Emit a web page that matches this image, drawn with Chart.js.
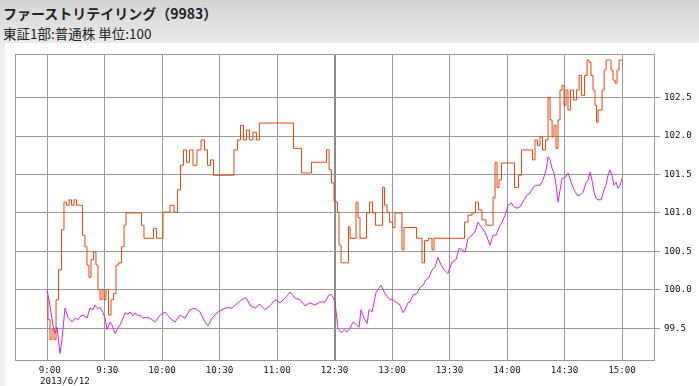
<!DOCTYPE html>
<html><head><meta charset="utf-8">
<script src="https://cdn.jsdelivr.net/npm/chart.js@4/dist/chart.umd.min.js"></script>
<style>
html,body{margin:0;padding:0;width:699px;height:386px;overflow:hidden;background:#eeeeee;}
#hdr{position:absolute;left:0;top:0;width:699px;height:46px;background:linear-gradient(#d4d4d4,#ebebeb);}
#panel{position:absolute;left:5px;top:43px;width:694px;height:343px;background:#fff;}
#t1{position:absolute;left:3px;top:4px;font:bold 14px "Noto Sans CJK JP";line-height:18px;color:#222;white-space:nowrap;}
#t2{position:absolute;left:3px;top:25px;font:13.5px "Noto Sans CJK JP";line-height:16px;color:#222;white-space:nowrap;}
#date{position:absolute;left:40px;top:375px;font:9.2px "DejaVu Sans Mono";line-height:11px;color:#111;white-space:nowrap;}
canvas{position:absolute;left:0;top:0;}
</style></head>
<body>
<div id="hdr"></div><div id="panel"></div>
<div id="t1">ファーストリテイリング（9983）</div>
<div id="t2">東証1部:普通株 単位:100</div>
<canvas id="c" width="699" height="386"></canvas>
<div id="date">2013/6/12</div>
<script>
// trading minutes from 9:00 (lunch break removed: 150 = 11:30 / 12:30)
const xTickVals = [0,30,60,90,120,150,180,210,240,270,300];
const xTickLabels = [' 9:00',' 9:30','10:00','10:30','11:00','12:30','13:00','13:30','14:00','14:30','15:00'];
const yTickVals = [99.5,100.0,100.5,101.0,101.5,102.0,102.5];

// stock (orange)
const stockT = [0,1.0,2.1,3.1,4.2,5.2,6.8,8.3,9.4,11.0,12.0,13.6,14.6,16.2,17.7,19.3,20.3,21.4,22.4,23.5,25.0,26.1,27.1,28.2,29.2,30.3,31.3,32.9,33.9,35.5,36.5,38.1,39.7,40.7,41.7,48.5,50.1,51.1,54.8,56.3,57.9,60.0,61.0,63.1,65.2,67.3,68.9,70.4,72.0,73.6,75.1,77.2,79.3,81.4,82.9,84.5,86.1,87.6,92.9,96.5,98.6,100.2,101.7,103.3,104.8,106.4,108.5,110.0,111.6,127.8,129.4,132.0,133.6,137.2,138.8,145.0,146.6,147.7,149.2,150.3,151.3,151.8,152.9,154.0,157.0,157.6,158.6,160.7,161.7,162.8,163.8,165.9,167.5,169.1,170.6,172.2,174.8,175.3,176.9,177.9,179.5,181.0,182.1,184.7,185.7,186.8,192.0,193.6,195.1,196.2,197.7,200.3,201.4,202.4,217.0,218.6,220.7,222.8,224.3,225.9,228.0,230.1,232.2,233.2,234.3,235.3,236.3,237.9,240.0,242.6,245.2,246.8,248.3,250.4,252.5,254.1,255.1,256.7,257.7,259.3,260.9,261.9,263.0,264.0,265.0,266.1,267.1,268.2,269.2,270.3,271.3,272.3,273.9,275.5,277.1,278.1,279.7,281.2,282.3,283.3,284.3,285.4,286.4,287.0,288.0,289.1,290.1,291.2,292.2,293.7,294.8,295.8,296.9,297.9,299.0,300.0];
const stockV = [99.90,99.61,99.35,99.48,99.35,99.87,100.26,100.78,101.14,101.10,101.17,101.10,101.17,101.10,101.10,100.71,100.56,100.32,100.16,100.39,100.49,100.32,100.00,99.87,100.00,99.87,100.00,99.67,99.87,99.95,100.32,100.35,100.56,100.84,101.00,101.00,100.84,100.67,100.67,100.80,100.67,100.67,101.01,101.01,101.10,101.01,101.30,101.62,101.82,101.66,101.82,101.62,101.82,101.95,101.82,101.62,101.69,101.49,101.49,101.49,101.82,101.95,102.14,101.95,102.08,101.95,102.05,101.95,102.17,102.17,101.84,101.84,101.52,101.52,101.66,101.66,101.82,101.56,101.39,101.15,101.14,101.01,100.58,100.35,100.35,100.82,100.67,100.67,101.14,100.94,100.67,100.67,101.00,101.14,101.00,100.84,100.84,101.33,101.10,101.01,100.88,100.81,101.00,101.00,100.52,100.81,100.81,100.67,100.67,100.35,100.64,100.67,100.52,100.67,100.67,100.88,100.97,101.00,101.14,101.04,100.91,100.84,100.84,101.20,101.66,101.33,101.43,101.65,101.65,101.65,101.33,101.49,101.82,101.82,101.82,101.69,101.95,101.88,101.99,101.82,101.95,102.50,102.21,101.99,102.14,101.84,102.21,102.60,102.66,102.40,102.60,102.34,102.60,102.47,102.60,102.79,102.53,102.79,102.99,102.96,102.79,102.60,102.40,102.18,102.34,102.34,102.60,102.86,102.99,102.99,102.86,102.73,102.69,102.86,102.99,102.99];

// index (magenta)
const indexT = [0,1.0,2.1,3.1,4.2,5.2,6.3,6.8,7.8,8.3,9.4,11.0,13.0,14.6,16.2,17.7,18.8,20.9,22.4,24.0,25.0,26.6,27.7,29.2,30.3,31.3,32.9,33.9,35.5,37.0,38.1,39.7,40.7,42.3,43.3,44.9,45.9,47.5,48.5,50.1,51.1,53.7,56.3,59.0,61.6,64.2,66.8,69.4,72.0,74.6,77.2,79.8,82.4,84.0,86.1,89.2,91.3,94.4,96.5,99.7,101.7,103.8,105.9,108.5,111.1,113.7,116.3,119.0,121.6,124.2,126.8,129.4,132.0,134.6,137.2,139.8,142.4,145.0,147.1,148.2,149.2,150.3,151.8,153.4,155.0,156.5,158.1,159.7,161.2,162.8,163.8,165.4,167.0,168.0,169.6,171.7,172.7,174.3,175.3,176.9,179.0,180.5,182.6,184.2,185.7,186.8,188.3,189.4,190.9,193.0,194.6,196.2,197.7,199.3,200.9,202.4,204.0,205.6,207.1,209.2,211.3,213.4,215.0,216.5,218.1,219.7,221.7,223.3,224.9,227.0,228.5,230.1,231.1,232.7,234.3,235.8,237.4,239.0,240.6,242.2,243.7,245.2,246.8,248.9,250.4,252.0,253.6,255.1,257.2,258.8,260.4,261.4,262.5,263.5,264.5,265.6,266.6,267.7,268.7,270.3,271.9,273.4,275.0,276.6,278.1,279.7,281.2,282.3,283.3,284.3,285.4,286.4,287.5,289.1,290.6,291.6,292.7,293.7,294.8,295.8,296.9,297.9,299.0,300.0];
const indexV = [100.00,99.87,99.70,99.54,99.43,99.51,99.28,99.17,99.35,99.48,99.76,99.64,99.58,99.63,99.61,99.66,99.67,99.63,99.76,99.74,99.80,99.75,99.77,99.70,99.63,99.48,99.58,99.54,99.43,99.50,99.54,99.63,99.70,99.68,99.71,99.66,99.70,99.66,99.67,99.63,99.64,99.63,99.58,99.67,99.71,99.63,99.58,99.67,99.63,99.74,99.76,99.71,99.58,99.53,99.63,99.71,99.74,99.77,99.76,99.83,99.87,99.90,99.80,99.76,99.81,99.74,99.79,99.87,99.83,99.89,99.97,99.89,99.87,99.79,99.83,99.80,99.84,99.84,99.93,99.94,99.90,99.83,99.50,99.44,99.48,99.45,99.50,99.58,99.55,99.51,99.74,99.63,99.56,99.74,99.71,99.97,100.00,100.06,100.00,99.93,99.87,99.87,99.83,99.80,99.70,99.74,99.83,99.84,99.93,99.95,100.03,100.06,100.13,100.16,100.26,100.29,100.42,100.32,100.26,100.21,100.36,100.39,100.54,100.52,100.49,100.67,100.71,100.75,100.88,100.80,100.75,100.65,100.58,100.71,100.71,100.81,100.88,100.97,101.10,101.13,101.08,101.06,101.08,101.17,101.23,101.26,101.33,101.36,101.36,101.43,101.56,101.73,101.69,101.58,101.52,101.36,101.14,101.30,101.45,101.46,101.52,101.40,101.30,101.23,101.23,101.27,101.39,101.43,101.53,101.43,101.27,101.19,101.17,101.17,101.30,101.36,101.49,101.56,101.48,101.36,101.40,101.32,101.36,101.45];

const toXY = (ts, vs) => ts.map((t, i) => ({x: t, y: vs[i]}));

const boxPlugin = {
  id: 'box',
  beforeDatasetsDraw(chart) {
    const a = chart.chartArea, ctx = chart.ctx;
    ctx.save();
    ctx.strokeStyle = '#999999';
    ctx.lineWidth = 1;
    ctx.strokeRect(a.left + 0.5, a.top + 0.5, a.right - a.left - 1, a.bottom - a.top);
    ctx.restore();
  }
};

new Chart(document.getElementById('c'), {
  type: 'line',
  data: {
    datasets: [
      {data: toXY(stockT, stockV), borderColor: '#e4460e', borderWidth: 1, pointRadius: 0, fill: false, tension: 0, stepped: 'middle'},
      {data: toXY(indexT, indexV), borderColor: '#d424dc', borderWidth: 1, pointRadius: 0, fill: false, tension: 0}
    ]
  },
  options: {
    responsive: false,
    animation: false,
    events: [],
    layout: {padding: {left: 15, top: 54, right: 0, bottom: 0}},
    plugins: {legend: {display: false}, tooltip: {enabled: false}, title: {display: false}},
    scales: {
      x: {
        type: 'linear', position: 'bottom', min: -16.7, max: 317.2,
        afterBuildTicks: s => { s.ticks = xTickVals.map(v => ({value: v})); },
        afterFit: s => { s.height = 26; },
        ticks: {
          autoSkip: false, maxRotation: 0, padding: 5, color: '#111',
          font: {family: 'DejaVu Sans Mono', size: 9.2},
          callback: (v, i) => xTickLabels[i]
        },
        grid: {
          color: ctx => (ctx.tick && ctx.tick.value === 150) ? '#8a8a8a' : '#999999',
          lineWidth: ctx => (ctx.tick && ctx.tick.value === 150) ? 2 : 1,
          drawTicks: false
        },
        border: {display: false}
      },
      y: {
        type: 'linear', position: 'right', min: 99.085, max: 103.069,
        afterBuildTicks: s => { s.ticks = yTickVals.map(v => ({value: v})); },
        afterFit: s => { s.width = 44; },
        ticks: {
          padding: 4, color: '#111',
          font: {family: 'DejaVu Sans Mono', size: 9.2},
          callback: v => v.toFixed(1)
        },
        grid: {color: '#999999', lineWidth: 1, drawTicks: true, tickLength: 5},
        border: {display: false}
      }
    }
  },
  plugins: [boxPlugin]
});
</script>
</body></html>
